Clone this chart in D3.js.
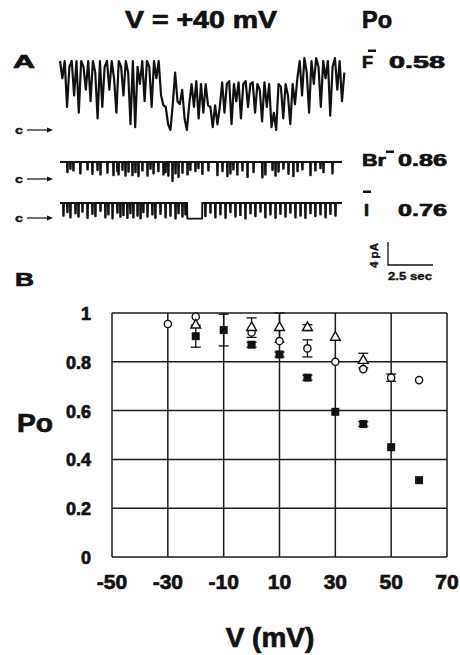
<!DOCTYPE html>
<html>
<head>
<meta charset="utf-8">
<script src="https://cdn.jsdelivr.net/npm/d3@7"></script>
<style>
    body { margin: 0; background: #fff; }
    text { font-family: "Liberation Sans", Arial, sans-serif; font-weight: bold; fill: #111; stroke: #111; stroke-width: 0.7px; }
    text.small { stroke-width: 0.35px; }
</style>
</head>
<body>
<svg id="chart" width="460" height="655"></svg>
<script>
// ---- panel A: single channel records (pA above closed level), time in s ----
// F- record, one value every 0.125 s
let fTrace = [
    12, 9, 12, 4, 11, 12, 6,
    12, 3, 12, 11, 7, 12, 5, 12, 10, 2, 12,
    4, 11,
    12, 7, 12, 9, 3, 12, 11, 6, 12,
    10, 1, 12, 0.5, 11, 8,
    12, 5, 12, 11, 4, 12, 9, 12, 6,
    4.3, 4, 1, 0, 4.5, 10,
    5, 4.5, 7, 2, 0, 4.5,
    8, 4, 8.5, 2, 8, 3, 8,
    4.3, 4, 0.5, 4.3, 1, 4,
    8.3, 3, 8, 8.5, 1, 8, 5, 8.3, 2, 8, 8.5, 4, 8,
    8.3, 3, 8, 7, 1.5, 8.3, 4, 8,
    0.5, 3, 0, 8,
    7.5, 2, 8, 6, 1, 8, 4.5, 9,
    12, 6, 12.5, 10, 3, 12, 8, 12.5, 11, 4, 12, 9, 12, 2.5, 11, 12.5, 7, 12, 5, 10
];
let fStep = 0.125;

// Br- record: open level and brief closures [time, depth]
let brOpen = 2.96;
let brEvents = [
    [0.37, 1.8], [0.53, 1.2], [0.69, 1.5], [1.06, 2.0], [1.44, 1.3], [1.70, 2.1], [1.97, 1.4],
    [2.13, 2.2], [2.50, 1.9], [2.82, 2.3], [3.03, 1.6], [3.09, 2.2], [3.30, 1.4], [3.46, 2.4],
    [3.62, 1.7], [3.83, 2.3], [3.99, 1.8], [4.15, 2.5], [4.36, 1.5], [4.63, 2.4], [4.79, 1.2],
    [4.95, 2.0], [5.21, 1.6], [5.48, 2.2], [5.59, 1.8], [5.74, 2.4], [5.96, 3.3], [6.12, 2.0],
    [6.28, 2.6], [6.49, 1.9], [6.76, 2.2], [6.91, 1.4], [7.18, 1.6], [7.34, 1.1], [7.55, 2.1],
    [7.87, 1.5], [8.35, 2.3], [8.62, 1.6], [8.88, 2.5], [9.04, 2.0], [9.20, 1.3], [9.41, 2.2],
    [9.68, 1.5], [9.95, 2.6], [10.27, 1.8], [10.74, 2.7], [10.90, 2.2], [11.28, 1.4], [11.44, 2.4],
    [11.60, 1.7], [11.86, 1.2], [12.13, 2.1], [12.39, 2.5], [12.61, 1.6], [12.87, 1.3], [13.30, 2.3],
    [13.56, 1.5], [13.83, 1.1], [13.99, 1.8], [14.47, 2.0]
];

// I- record
let iOpen = 2.6;
let iEvents = [
    [0.16, 2.2], [0.37, 1.6], [0.53, 2.5], [0.80, 1.8], [0.96, 2.4], [1.17, 1.5], [1.44, 2.6],
    [1.70, 1.9], [1.86, 2.3], [2.13, 1.4], [2.39, 2.5], [2.55, 2.0], [2.77, 2.7], [3.03, 1.7],
    [3.19, 2.4], [3.35, 2.1], [3.56, 2.6], [3.72, 1.8], [3.88, 2.5], [4.10, 2.2], [4.26, 2.7],
    [4.41, 1.6], [4.63, 2.4], [4.89, 2.0], [5.05, 2.6], [5.32, 1.9], [5.59, 2.5], [5.85, 2.2],
    [6.12, 2.7], [6.28, 1.8], [6.49, 2.4], [6.65, 2.0],
    [7.71, 2.3], [7.98, 1.7], [8.24, 2.5], [8.51, 2.0], [8.78, 2.6], [9.04, 1.6], [9.31, 2.4],
    [9.57, 2.1], [9.84, 2.7], [10.11, 1.8], [10.37, 2.3], [10.64, 1.5], [10.90, 2.5], [11.17, 2.0],
    [11.44, 2.6], [11.70, 1.9], [11.97, 2.4], [12.23, 1.7], [12.50, 2.5], [12.77, 2.2], [13.03, 2.6],
    [13.30, 1.8], [13.56, 2.3], [13.83, 2.0], [14.10, 2.5], [14.36, 1.9], [14.63, 2.2]
];
let iLongClosure = [6.76, 7.55, 2.7];

let traceLabels = ["F", "Br", "I"];
let traceWaPo = ["0.58", "0.86", "0.76"];

// ---- panel B: Po vs voltage ----
let voltTicks = [-50, -30, -10, 10, 30, 50, 70];
let poTicks = [0, 0.2, 0.4, 0.6, 0.8, 1];

let circV = [-30, -20, 0, 10, 20, 30, 40, 50, 60];
let circPo = [0.955, 0.985, 0.92, 0.885, 0.855, 0.80, 0.77, 0.735, 0.725];
let circErr = [0, 0, 0, 0, 0.035, 0, 0, 0.015, 0];

let triV = [-20, 0, 10, 20, 30, 40];
let triPo = [0.95, 0.94, 0.94, 0.94, 0.90, 0.805];
let triErr = [0, 0.04, 0.06, 0.012, 0, 0.03];

let sqV = [-20, -10, 0, 10, 20, 30, 40, 50, 60];
let sqPo = [0.905, 0.93, 0.87, 0.83, 0.735, 0.595, 0.545, 0.45, 0.315];
let sqErr = [0.045, 0.065, 0.01, 0.01, 0.01, 0, 0.01, 0, 0];

let svg = d3.select("#chart");

function draw_traces() {
    let tx = d3.scaleLinear().domain([0, 15]).range([60, 342]);
    let pa = d3.scaleLinear().domain([0, 1]).range([0, -5.75]);
    let closedY = [130, 179, 218];

    let line = d3.line().x(d => tx(d[0])).y(d => pa(d[1]));

    function eventPoints(events, open, longClosure) {
        let pts = [[0, open]];
        let all = events.map(e => [e[0], e[1], 0.03]);
        if (longClosure) all.push([longClosure[0], longClosure[2], longClosure[1] - longClosure[0]]);
        all.sort((a, b) => a[0] - b[0]);
        all.forEach(e => {
            pts.push([e[0], open], [e[0] + 0.01, open - e[1]],
                [e[0] + 0.01 + e[2], open - e[1]], [e[0] + 0.02 + e[2], open]);
        });
        pts.push([15, open]);
        return pts;
    }

    let records = [
        fTrace.map((v, i) => [i * fStep, v]),
        eventPoints(brEvents, brOpen),
        eventPoints(iEvents, iOpen, iLongClosure)
    ];

    let g = svg.append("g");
    g.selectAll("path.trace")
        .data(records).enter()
        .append("path")
        .attr("class", "trace")
        .attr("transform", (_, i) => `translate(0, ${closedY[i]})`)
        .attr("d", line)
        .attr("fill", "none")
        .attr("stroke", "#111")
        .attr("stroke-width", (_, i) => i === 0 ? 2.2 : 1.9)
        .attr("stroke-linejoin", "round");

    // closed-level arrows
    closedY.forEach(y => {
        g.append("text").attr("class", "small").attr("x", 15).attr("y", y + 3.5)
            .style("font-size", "11px").attr("textLength", 8).attr("lengthAdjust", "spacingAndGlyphs").text("c");
        g.append("path").attr("d", `M27,${y}H49`).attr("stroke", "#111").attr("stroke-width", 1.2);
        g.append("path").attr("d", `M53,${y}l-6,-2.5v5z`).attr("fill", "#111");
    });

    // labels
    let labY = [68, 166, 216];
    let labW = [11, 24, 5];
    let labX = [362, 362, 364];
    let minusPos = [[368, 51], [386, 152], [363, 192]];
    traceLabels.forEach((t, i) => {
        g.append("text").attr("x", labX[i]).attr("y", labY[i])
            .style("font-size", "17px").attr("textLength", labW[i]).attr("lengthAdjust", "spacingAndGlyphs").text(t);
        g.append("rect").attr("x", minusPos[i][0]).attr("y", minusPos[i][1] - 1.5)
            .attr("width", 8).attr("height", 2.5).attr("fill", "#111");
        g.append("text").attr("x", i === 0 ? 389 : 398).attr("y", labY[i])
            .style("font-size", "17px").attr("textLength", i === 0 ? 56 : 49)
            .attr("lengthAdjust", "spacingAndGlyphs").text(traceWaPo[i]);
    });

    // scale bar
    g.append("path").attr("d", "M388,242V265H433").attr("fill", "none")
        .attr("stroke", "#111").attr("stroke-width", 1.3);
    g.append("text").attr("class", "small").attr("transform", "translate(378, 268) rotate(-90)")
        .style("font-size", "11px").attr("textLength", 25).attr("lengthAdjust", "spacingAndGlyphs").text("4 pA");
    g.append("text").attr("class", "small").attr("x", 388).attr("y", 280)
        .style("font-size", "11px").attr("textLength", 44).attr("lengthAdjust", "spacingAndGlyphs").text("2.5 sec");

    // headings
    g.append("text").attr("x", 125).attr("y", 28).style("font-size", "24px")
        .attr("textLength", 152).attr("lengthAdjust", "spacingAndGlyphs").text("V = +40 mV");
    g.append("text").attr("x", 362).attr("y", 28).style("font-size", "23px")
        .attr("textLength", 30).attr("lengthAdjust", "spacingAndGlyphs").text("Po");
    g.append("text").attr("x", 13).attr("y", 68).style("font-size", "19px")
        .attr("textLength", 22).attr("lengthAdjust", "spacingAndGlyphs").text("A");
    g.append("text").attr("x", 15).attr("y", 286).style("font-size", "19px")
        .attr("textLength", 19).attr("lengthAdjust", "spacingAndGlyphs").text("B");
}

function draw_po() {
    let margin = { top: 313, right: 13, bottom: 98, left: 112 };
    let x = d3.scaleLinear().domain([-50, 70]).range([margin.left, 460 - margin.right]);
    let y = d3.scaleLinear().domain([0, 1]).range([655 - margin.bottom, margin.top]);

    let g = svg.append("g");

    // grid
    g.selectAll("line.v").data(voltTicks).enter().append("line")
        .attr("x1", d => x(d)).attr("x2", d => x(d))
        .attr("y1", y(0)).attr("y2", y(1))
        .attr("stroke", "#1a1a1a").attr("stroke-width", 1.5);
    g.selectAll("line.h").data(poTicks).enter().append("line")
        .attr("x1", x(-50)).attr("x2", x(70))
        .attr("y1", d => y(d)).attr("y2", d => y(d))
        .attr("stroke", "#1a1a1a").attr("stroke-width", 1.5);

    // tick labels
    g.selectAll("text.xt").data(voltTicks).enter().append("text")
        .attr("x", d => x(d)).attr("y", 589)
        .attr("text-anchor", "middle").style("font-size", "21px")
        .text(d => d);
    g.selectAll("text.yt").data(poTicks).enter().append("text")
        .attr("x", 91).attr("y", d => y(d) + 7)
        .attr("text-anchor", "end").style("font-size", "18px")
        .text(d => d);

    g.append("text").attr("x", 270).attr("y", 647).attr("text-anchor", "middle")
        .style("font-size", "28px").text("V (mV)");
    g.append("text").attr("x", 17).attr("y", 432).style("font-size", "25px")
        .attr("textLength", 36).attr("lengthAdjust", "spacingAndGlyphs").text("Po");

    function errorBars(vs, ps, es) {
        let data = vs.map((v, i) => ({ v: v, p: ps[i], e: es[i] })).filter(d => d.e > 0);
        let eb = g.append("g").attr("stroke", "#111").attr("stroke-width", 1.3);
        data.forEach(d => {
            eb.append("line").attr("x1", x(d.v)).attr("x2", x(d.v))
                .attr("y1", y(d.p - d.e)).attr("y2", y(d.p + d.e));
            [d.p - d.e, d.p + d.e].forEach(q => {
                eb.append("line").attr("x1", x(d.v) - 5).attr("x2", x(d.v) + 5)
                    .attr("y1", y(q)).attr("y2", y(q));
            });
        });
    }
    errorBars(sqV, sqPo, sqErr);
    errorBars(circV, circPo, circErr);
    errorBars(triV, triPo, triErr);

    // filled squares
    g.selectAll("rect.sq").data(sqV.map((v, i) => [v, sqPo[i]])).enter().append("rect")
        .attr("x", d => x(d[0]) - 4).attr("y", d => y(d[1]) - 4)
        .attr("width", 8).attr("height", 8).attr("fill", "#111");

    // open circles
    g.selectAll("circle.c").data(circV.map((v, i) => [v, circPo[i]])).enter().append("circle")
        .attr("cx", d => x(d[0])).attr("cy", d => y(d[1])).attr("r", 3.6)
        .attr("fill", "#fff").attr("stroke", "#111").attr("stroke-width", 1.4);

    // open triangles
    let tri = d3.symbol().type(d3.symbolTriangle).size(42);
    g.selectAll("path.t").data(triV.map((v, i) => [v, triPo[i]])).enter().append("path")
        .attr("d", tri)
        .attr("transform", d => `translate(${x(d[0])}, ${y(d[1])})`)
        .attr("fill", "#fff").attr("stroke", "#111").attr("stroke-width", 1.4);
}

draw_traces();
draw_po();
</script>
</body>
</html>
